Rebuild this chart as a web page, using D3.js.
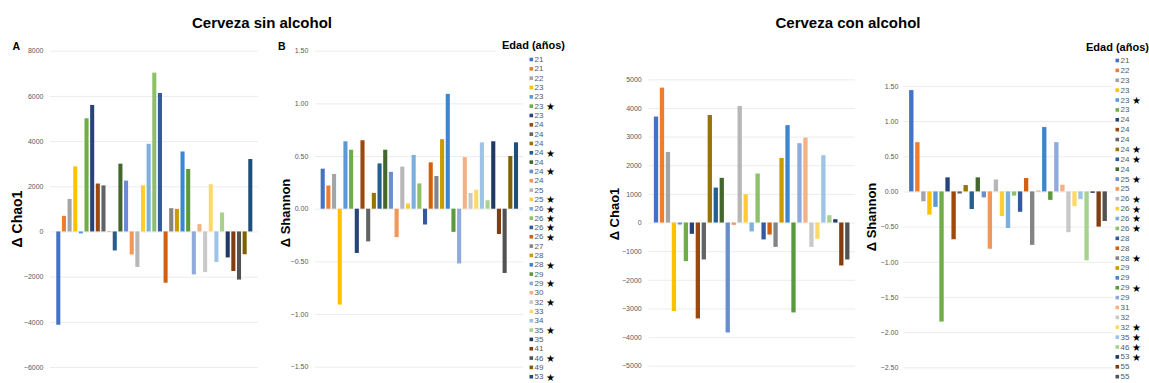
<!DOCTYPE html>
<html>
<head>
<meta charset="utf-8">
<script src="https://cdn.jsdelivr.net/npm/d3@7"></script>
<style>
  html, body { margin: 0; padding: 0; background: #fff; }
  svg { display: block; font-family: "Liberation Sans", Arial, sans-serif; }
</style>
</head>
<body>
<svg id="chart" width="1149" height="383"></svg>
<script>
// ---- Cerveza sin alcohol: one bar per participant ----
const ageSin = ["21","21","22","23","23","23","23","24","24","24","24","24","24","24","25","25","26","26","26","26","27","28","28","29","29","30","32","33","34","35","35","41","46","49","53"];
const sigSin = [0,0,0,0,0,1,0,0,0,0,1,0,1,0,0,1,1,1,1,1,0,0,1,0,1,0,1,0,0,1,0,0,1,0,1];
const chaoSin = [-4130, 690, 1440, 2880, -90, 5010, 5600, 2120, 2040, 15, -840, 3000, 2250, -1020, -1570, 2040, 3880, 7030, 6130, -2270, 1030, 1000, 3540, 2765, -1900, 325, -1800, 2090, -1350, 840, -1150, -1750, -2130, -1010, 3205];
const shannonSin = [0.38, 0.22, 0.33, -0.91, 0.64, 0.56, -0.42, 0.65, -0.31, 0.15, 0.43, 0.56, 0.35, -0.27, 0.40, 0.05, 0.51, 0.24, -0.15, 0.44, 0.31, 0.66, 1.09, -0.22, -0.52, 0.49, 0.15, 0.18, 0.63, 0.08, 0.64, -0.24, -0.61, 0.50, 0.63];

// ---- Cerveza con alcohol ----
const ageCon = ["21","22","23","23","23","23","24","24","24","24","24","24","25","25","26","26","26","26","28","28","28","29","29","29","29","31","32","32","35","46","53","55","55"];
const sigCon = [0,0,0,0,1,0,0,0,0,1,1,0,1,0,1,1,1,1,0,0,1,0,0,1,0,0,0,1,1,1,1,0,0];
const chaoCon = [3700, 4710, 2465, -3090, -70, -1350, -395, -3350, -1290, 3755, 1220, 1560, -3840, -80, 4070, 990, -310, 1710, -590, -420, -850, 2255, 3400, -3140, 2770, 2965, -850, -570, 2350, 255, 115, -1500, -1290];
const shannonCon = [1.44, 0.70, -0.14, -0.33, -0.22, -1.85, 0.20, -0.68, -0.03, 0.09, -0.25, 0.20, -0.085, -0.815, 0.17, -0.35, -0.52, -0.06, -0.29, 0.19, -0.76, 0.01, 0.915, -0.12, 0.70, 0.095, -0.58, -0.21, -0.11, -0.98, -0.02, -0.50, -0.42];

// Tick values for each panel
const ticksA = [-6000, -4000, -2000, 0, 2000, 4000, 6000, 8000];
const ticksB = [-1.5, -1.0, -0.5, 0, 0.5, 1.0, 1.5];
const ticksC = [-5000, -4000, -3000, -2000, -1000, 0, 1000, 2000, 3000, 4000, 5000, 6000];
const ticksD = [-2.5, -2.0, -1.5, -1.0, -0.5, 0, 0.5, 1.0, 1.5, 2.0];

// Office-style series palette (cycled per participant)
const palette = ["#4472C4","#ED7D31","#A5A5A5","#FFC000","#5B9BD5","#70AD47",
  "#264478","#9E480E","#636363","#997300","#255E91","#43682B",
  "#698ED0","#F1975A","#B7B7B7","#FFCD33","#7CAFDD","#8CC168",
  "#335AA1","#D26012","#848484","#CC9A00","#3B86CF","#5A9A3B",
  "#8FAADC","#F4B183","#C9C9C9","#FFD966","#9DC3E6","#A9D18E",
  "#203864","#843C0C","#525252","#7F6000","#1F4E79"];

const svg = d3.select("#chart");

function barPanel(o) {
  const n = o.values.length;
  const step = (o.cLast - o.cFirst) / (n - 1);
  const pIn = 0.28;
  const x = d3.scaleBand().domain(d3.range(n))
    .range([o.cFirst - step, o.cLast + step])
    .paddingInner(pIn).paddingOuter((1 + pIn) / 2);
  const y = d3.scaleLinear().domain(o.domain).range([o.yBot, o.yTop]);

  const axis = d3.axisLeft(y).tickValues(o.ticks).tickFormat(o.fmt)
    .tickSize(-(o.gx1 - o.gx0)).tickPadding(o.pad);
  const g = svg.append("g").attr("transform", `translate(${o.gx0},0)`).call(axis);
  g.select(".domain").remove();
  g.selectAll(".tick line").attr("stroke", "#ececec").attr("stroke-width", 1);
  g.selectAll(".tick text").attr("fill", "#595959").style("font-size", "7px")
    .style("font-family", "'Liberation Sans', Arial, sans-serif");

  svg.append("g").selectAll("rect").data(o.values).join("rect")
    .attr("x", (d, i) => x(i))
    .attr("width", x.bandwidth())
    .attr("y", d => y(Math.max(0, d)))
    .attr("height", d => Math.abs(y(d) - y(0)))
    .attr("fill", (d, i) => palette[i % palette.length]);

  svg.append("text").attr("x", o.letterX).attr("y", o.letterY)
    .attr("font-weight", "bold").attr("font-size", 10.5).attr("fill", "#000")
    .text(o.letter);

  svg.append("text")
    .attr("transform", `translate(${o.titleX},${o.titleY}) rotate(-90)`)
    .attr("text-anchor", "middle").attr("dominant-baseline", "central")
    .attr("font-weight", "bold").attr("font-size", o.titleSize).attr("fill", "#000")
    .text(o.title);
}

function legend(o) {
  svg.append("rect").attr("x", o.boxX).attr("y", 40).attr("width", 1149 - o.boxX).attr("height", 14)
    .attr("fill", "#fff");
  svg.append("text").attr("x", o.titleX).attr("y", o.titleY)
    .attr("font-weight", "bold").attr("font-size", 11).attr("fill", "#000")
    .text("Edad (años)");
  const rows = svg.append("g").selectAll("g").data(o.ages).join("g")
    .attr("transform", (d, i) => `translate(${o.x},${o.y0 + i * o.dy})`);
  rows.append("rect").attr("x", 0).attr("y", -1.8).attr("width", 3.6).attr("height", 3.6)
    .attr("fill", (d, i) => palette[i % palette.length]);
  rows.append("text").attr("x", 5).attr("y", 0).attr("dominant-baseline", "central")
    .attr("font-size", 8).attr("fill", "#595959").text(d => d);
  rows.filter((d, i) => o.sig[i]).append("text")
    .attr("x", 16.5).attr("y", 0.3).attr("dominant-baseline", "central")
    .attr("font-size", 10).attr("fill", "#000")
    .style("font-family", "'DejaVu Sans', sans-serif")
    .text("★");
}

// Group headings
svg.append("text").attr("x", 262).attr("y", 28).attr("text-anchor", "middle")
  .attr("font-weight", "bold").attr("font-size", 15).text("Cerveza sin alcohol");
svg.append("text").attr("x", 848).attr("y", 28).attr("text-anchor", "middle")
  .attr("font-weight", "bold").attr("font-size", 15).text("Cerveza con alcohol");

const fmtInt = d3.format("d");
const fmt2 = d3.format(".2f");

barPanel({ values: chaoSin, domain: [-6000, 8000], ticks: ticksA, fmt: fmtInt,
  gx0: 50, gx1: 258, pad: 6.5, yTop: 50.7, yBot: 367, cFirst: 58.3, cLast: 250.3,
  letter: "A", letterX: 12.5, letterY: 50, title: "Δ Chao1", titleX: 17, titleY: 219, titleSize: 14 });

barPanel({ values: shannonSin, domain: [-1.5, 1.5], ticks: ticksB, fmt: fmt2,
  gx0: 315, gx1: 523, pad: 6.7, yTop: 50.7, yBot: 366.7, cFirst: 322.7, cLast: 516,
  letter: "B", letterX: 278, letterY: 49.5, title: "Δ Shannon", titleX: 285, titleY: 213, titleSize: 13 });

barPanel({ values: chaoCon, domain: [-5000, 6000], ticks: ticksC, fmt: fmtInt,
  gx0: 648.3, gx1: 855, pad: 6.6, yTop: 50.7, yBot: 365.7, cFirst: 656, cLast: 847.3,
  letter: "C", letterX: 607, letterY: 50, title: "Δ Chao1", titleX: 614, titleY: 214, titleSize: 13 });

barPanel({ values: shannonCon, domain: [-2.5, 2.0], ticks: ticksD, fmt: fmt2,
  gx0: 903.3, gx1: 1113, pad: 5, yTop: 50.7, yBot: 367.3, cFirst: 911.3, cLast: 1104.7,
  letter: "D", letterX: 866.5, letterY: 49, title: "Δ Shannon", titleX: 871, titleY: 217, titleSize: 13 });

legend({ ages: ageSin, sig: sigSin, x: 529.5, y0: 59.5, dy: 9.33,
  boxX: 496, titleX: 502, titleY: 49 });
legend({ ages: ageCon, sig: sigCon, x: 1115.5, y0: 60.5, dy: 9.88,
  boxX: 1084, titleX: 1086, titleY: 51 });
</script>
</body>
</html>
